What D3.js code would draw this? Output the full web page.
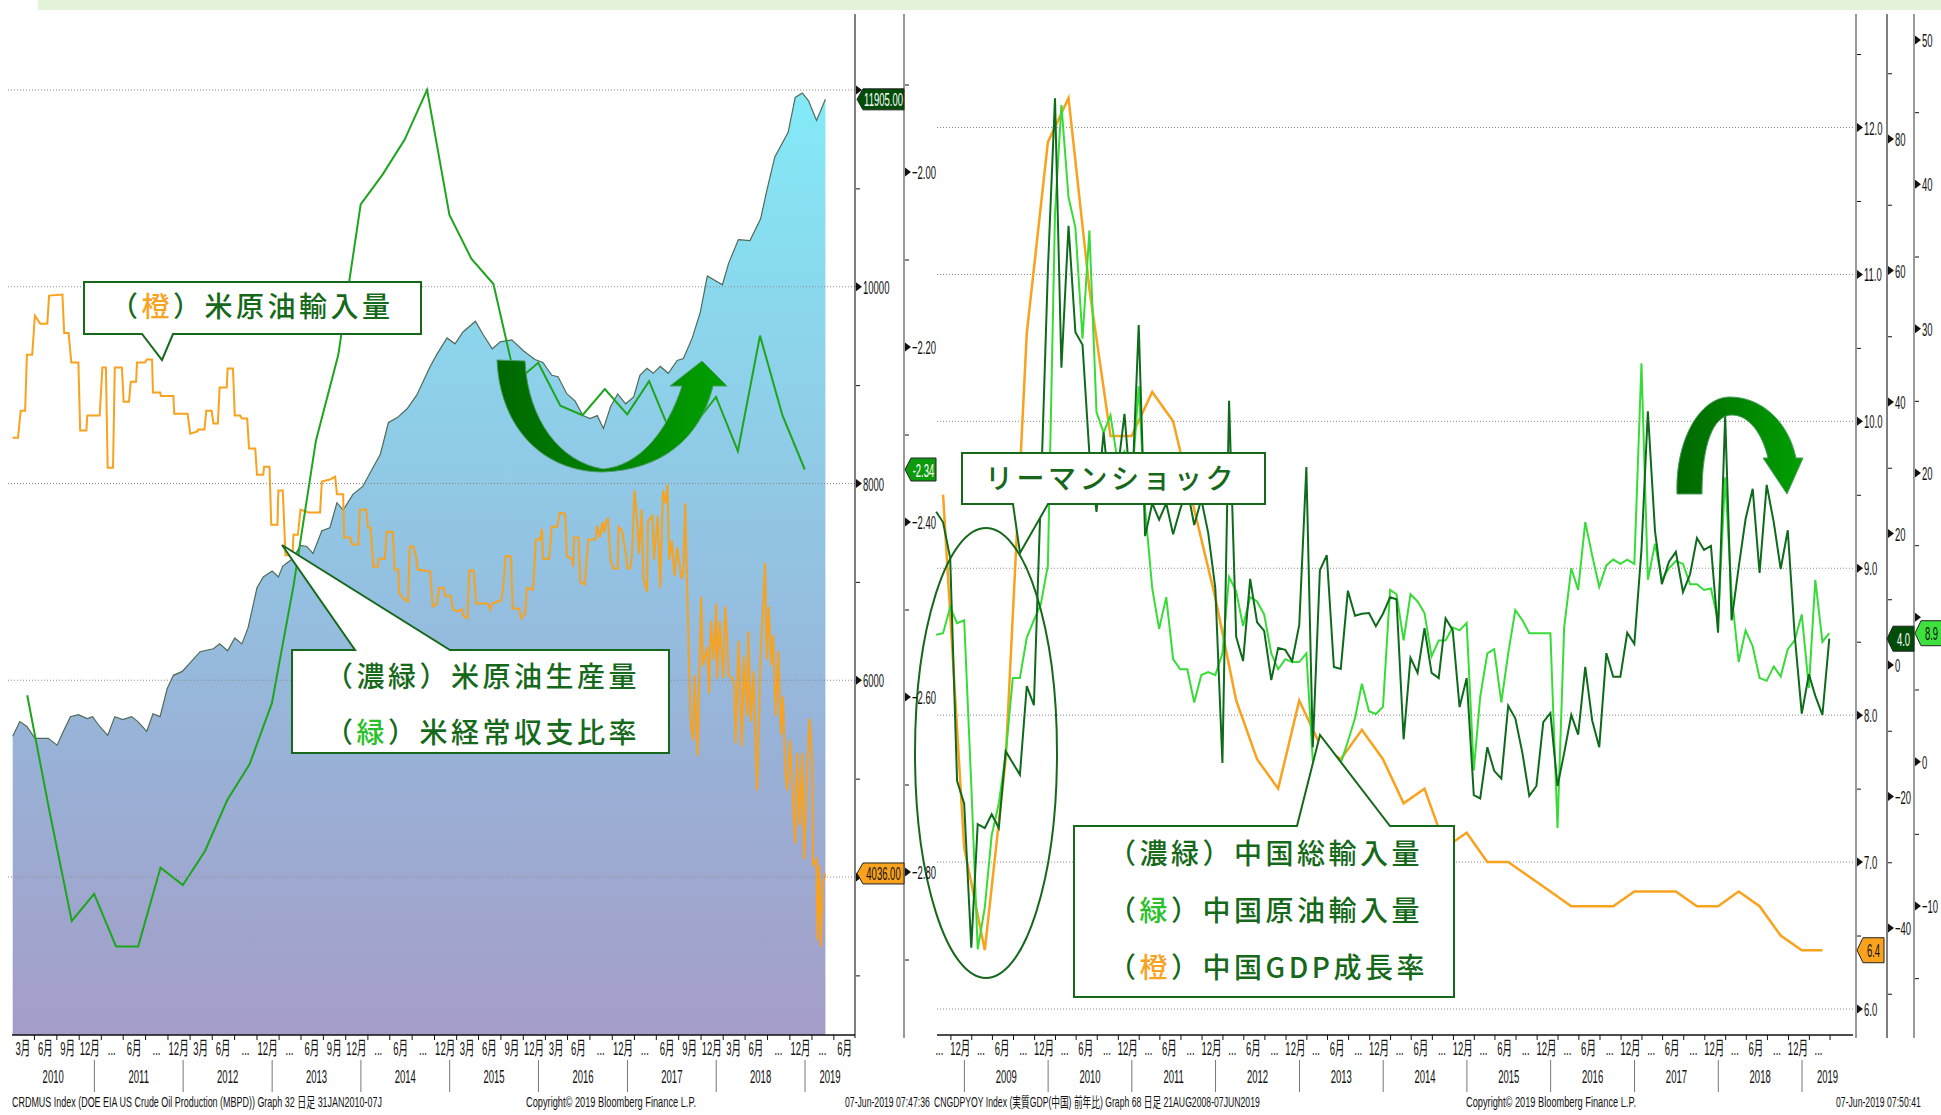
<!DOCTYPE html>
<html>
<head>
<meta charset="utf-8">
<script src="https://cdn.jsdelivr.net/npm/d3@7"></script>
<style>
body { margin: 0; background: #fff; }
svg { display: block; font-family: "Liberation Sans", "Noto Sans CJK JP", sans-serif; }
.jp { font-family: "Noto Sans CJK JP", sans-serif; }
</style>
</head>
<body>
<svg id="chart" width="1941" height="1115"></svg>
<script>
// US crude oil production (kb/d), [decimal year, value]
var usProduction = [
  [2010.08,5430],[2010.16,5580],[2010.24,5530],[2010.33,5410],[2010.48,5410],[2010.58,5340],[2010.65,5480],
  [2010.73,5630],[2010.82,5650],[2010.92,5610],[2010.98,5630],[2011.06,5530],[2011.15,5440],[2011.23,5630],
  [2011.32,5600],[2011.42,5630],[2011.49,5580],[2011.59,5480],[2011.66,5660],[2011.74,5630],[2011.82,5915],
  [2011.89,6050],[2011.99,6090],[2012.08,6180],[2012.19,6290],[2012.34,6320],[2012.41,6370],[2012.50,6300],
  [2012.58,6430],[2012.66,6370],[2012.73,6535],[2012.83,6940],[2012.90,7050],[2013.00,7110],[2013.07,7050],
  [2013.12,7160],[2013.23,7235],[2013.32,7370],[2013.39,7360],[2013.46,7290],[2013.56,7520],[2013.65,7550],
  [2013.73,7805],[2013.80,7730],[2013.91,7890],[2014.02,7970],[2014.22,8300],[2014.31,8620],[2014.41,8670],
  [2014.52,8760],[2014.63,8900],[2014.78,9190],[2014.86,9320],[2014.97,9480],[2015.06,9420],[2015.15,9540],
  [2015.29,9650],[2015.38,9510],[2015.48,9370],[2015.57,9440],[2015.70,9460],[2015.83,9350],[2015.96,9260],
  [2016.05,9230],[2016.15,9100],[2016.22,9085],[2016.32,8910],[2016.41,8840],[2016.50,8690],[2016.58,8660],
  [2016.66,8690],[2016.73,8560],[2016.81,8780],[2016.89,8910],[2016.98,8810],[2017.07,8880],[2017.14,9100],
  [2017.22,9170],[2017.29,9120],[2017.37,9190],[2017.46,9120],[2017.56,9250],[2017.63,9270],[2017.73,9480],
  [2017.82,9740],[2017.90,10110],[2018.07,10020],[2018.14,10240],[2018.25,10480],[2018.38,10470],[2018.50,10690],
  [2018.57,10980],[2018.66,11320],[2018.81,11570],[2018.89,11925],[2018.97,11970],[2019.04,11890],[2019.13,11690],
  [2019.23,11905]
];

// US crude oil imports (kb/d), [decimal year, value]
var usImports = [
  [2010.08,8466],[2010.14,8466],[2010.17,8740],[2010.22,8740],[2010.24,9310],[2010.30,9310],[2010.33,9705],
  [2010.39,9625],[2010.47,9625],[2010.49,9910],[2010.64,9920],[2010.66,9530],[2010.71,9530],[2010.74,9230],
  [2010.82,9230],[2010.84,8540],[2010.91,8540],[2010.92,8690],[2011.06,8690],[2011.09,9180],[2011.13,9180],
  [2011.15,8160],[2011.21,8160],[2011.23,9180],[2011.31,9180],[2011.33,8830],[2011.39,8830],[2011.41,9035],
  [2011.47,9035],[2011.48,9230],[2011.57,9230],[2011.59,9260],[2011.65,9260],[2011.66,8925],[2011.74,8925],
  [2011.75,8890],[2011.89,8890],[2011.90,8710],[2012.05,8710],[2012.08,8506],[2012.16,8530],[2012.17,8550],
  [2012.24,8550],[2012.26,8740],[2012.32,8740],[2012.34,8610],[2012.39,8610],[2012.41,8975],[2012.49,8975],
  [2012.50,9170],[2012.56,9170],[2012.58,8690],[2012.64,8690],[2012.66,8660],[2012.72,8660],[2012.74,8355],
  [2012.81,8355],[2012.83,8090],[2012.90,8090],[2012.91,8170],[2012.97,8170],[2012.99,7580],[2013.06,7580],
  [2013.07,7930],[2013.12,7930],[2013.15,7270],[2013.23,7270],[2013.24,7480],[2013.29,7480],[2013.32,7735],
  [2013.41,7705],[2013.54,7705],[2013.56,8020],[2013.65,8040],[2013.71,8070],[2013.73,7890],[2013.80,7890],
  [2013.81,7450],[2013.88,7450],[2013.90,7380],[2013.97,7380],[2013.99,7735],[2014.06,7735],[2014.08,7550],
  [2014.11,7550],[2014.14,7155],[2014.19,7155],[2014.20,7235],[2014.27,7235],[2014.29,7510],[2014.36,7510],
  [2014.38,7125],[2014.42,7125],[2014.43,6890],[2014.48,6830],[2014.53,6800],[2014.55,7360],[2014.59,7360],
  [2014.62,7270],[2014.64,7125],[2014.78,7105],[2014.81,6750],[2014.86,6780],[2014.88,6940],[2014.93,6940],
  [2014.95,6860],[2015.01,6860],[2015.04,6720],[2015.08,6700],[2015.14,6720],[2015.15,6660],[2015.20,6630],
  [2015.22,7115],[2015.27,7115],[2015.30,6780],[2015.43,6780],[2015.46,6720],[2015.48,6780],[2015.58,6810],
  [2015.60,6920],[2015.63,7260],[2015.69,7260],[2015.71,6730],[2015.78,6730],[2015.81,6630],[2015.85,6680],
  [2015.87,6940],[2015.94,6920],[2015.97,7430],[2016.02,7430],[2016.04,7540],[2016.05,7235],[2016.12,7235],
  [2016.15,7560],[2016.21,7560],[2016.24,7705],[2016.30,7690],[2016.32,7260],[2016.38,7230],[2016.39,7155],
  [2016.40,7450],[2016.45,7450],[2016.47,7000],[2016.52,6970],[2016.56,7430],[2016.64,7430],[2016.66,7570],
  [2016.69,7450],[2016.72,7610],[2016.74,7500],[2016.76,7620],[2016.78,7640],[2016.81,7225],[2016.84,7135],
  [2016.89,7135],[2016.90,7560],[2016.94,7520],[2016.98,7290],[2017.00,7135],[2017.03,7135],[2017.05,7260],
  [2017.08,7930],[2017.11,7610],[2017.13,7290],[2017.16,7735],[2017.18,7030],[2017.22,6900],[2017.23,7610],
  [2017.28,7670],[2017.30,7225],[2017.34,7670],[2017.37,6940],[2017.40,7930],[2017.43,7800],[2017.45,7990],
  [2017.47,7225],[2017.50,7420],[2017.53,7060],[2017.56,7350],[2017.61,7030],[2017.63,7100],[2017.65,7800],
  [2017.67,7030],[2017.71,5580],[2017.74,5390],[2017.76,6050],[2017.79,5230],[2017.83,6850],[2017.85,6150],
  [2017.90,6340],[2017.92,5865],[2017.94,6600],[2017.97,6210],[2018.00,6780],[2018.01,6020],[2018.04,6600],
  [2018.08,6020],[2018.10,6750],[2018.12,6470],[2018.14,6050],[2018.18,6020],[2018.20,5960],[2018.22,5360],
  [2018.25,6400],[2018.29,5330],[2018.31,6240],[2018.35,5640],[2018.36,6495],[2018.39,5580],[2018.42,6090],
  [2018.46,4880],[2018.50,6270],[2018.53,6780],[2018.55,7195],[2018.57,6210],[2018.59,6750],[2018.62,6150],
  [2018.64,6460],[2018.67,5640],[2018.70,6300],[2018.73,5450],[2018.75,5835],[2018.78,5070],[2018.80,4880],
  [2018.83,5390],[2018.87,4690],[2018.89,4340],[2018.91,5260],[2018.94,4525],[2018.97,5260],[2018.99,4180],
  [2019.03,5195],[2019.05,5610],[2019.08,5195],[2019.09,4120],[2019.13,4180],[2019.14,3355],[2019.16,4120],
  [2019.18,3290],[2019.20,3925],[2019.23,4036]
];

// US current account ratio, quarterly from 2010 Q1
var usCurrentAccount = [-2.598, -2.73, -2.856, -2.825, -2.885, -2.885, -2.795, -2.815, -2.776, -2.718,
  -2.677, -2.607, -2.471, -2.307, -2.209, -2.037, -2.003, -1.963, -1.906, -2.049, -2.099, -2.128, -2.24,
  -2.218, -2.267, -2.278, -2.248, -2.277, -2.239, -2.30, -2.29, -2.257, -2.319, -2.187, -2.278, -2.34];

// China real GDP yoy, quarterly from 2008 Q3
var cnGdp = [9.5, 7.1, 6.4, 7.7, 10.6, 11.9, 12.2, 10.9, 9.9, 9.9, 10.2, 10.0, 9.4, 8.8, 8.1, 7.7, 7.5, 8.1,
  7.8, 7.7, 7.9, 7.7, 7.4, 7.5, 7.1, 7.2, 7.0, 7.0, 6.9, 6.8, 6.7, 6.7, 6.7, 6.8, 6.8, 6.8, 6.7, 6.7, 6.8,
  6.7, 6.5, 6.4, 6.4];

// China total imports yoy, monthly from Aug 2008
var cnTotalImports = [23.3, 21.7, 16.3, -17.6, -21.1, -43.0, -24.2, -24.8, -22.7, -24.8, -13.1, -14.9,
  -16.7, -3.2, -6.1, 25.7, 60.1, 86.2, 45.2, 66.8, 50.6, 48.7, 32.1, 23.3, 35.4, 24.6, 29.4, 38.2, 24.6,
  51.7, 19.6, 24.6, 22.1, 24.6, 19.9, 23.7, 26.8, 21.3, 25.2, 20.1, 11.7, -14.9, 40.2, 4.3, 0.6, 13.1, 6.5,
  5.2, -2.3, 2.6, 2.3, 0.6, 6.1, 30.1, -12.5, 14.4, 16.7, -0.3, -0.6, 11.3, 7.5, 7.8, 7.9, 5.9, 7.8, 10.3,
  10.0, -11.3, 1.1, -1.2, 5.6, -1.2, -2.0, 7.1, 5.3, -6.4, -2.0, -19.8, -20.3, -12.5, -16.1, -17.3, -6.2,
  -8.1, -13.4, -19.9, -18.4, -8.7, -7.3, -18.4, -13.4, -7.6, -10.6, -0.3, -8.4, -12.5, 1.8, -1.8, -1.8,
  4.9, 3.2, 17.5, 38.6, 20.4, 12.3, 15.7, 17.2, 11.1, 13.8, 19.3, 17.5, 18.1, 4.9, 37.9, 6.8, 14.9, 22.2,
  26.8, 14.0, 27.4, 21.7, 14.6, 20.5, 4.6, -7.4, -1.4, -4.7, -7.6, 4.0];

// China crude oil imports yoy, monthly from Aug 2008
var cnCrudeImports = [8.8, 8.9, 10.7, 9.6, 9.8, -1.6, -13.0, -10.1, -5.1, -2.9, 0.5, 5.8, 5.8, 8.6, 9.8,
  10.9, 13.6, 38.0, 45.5, 39.1, 37.0, 29.3, 36.8, 24.2, 22.8, 24.0, 20.8, 21.5, 19.0, 26.0, 17.5, 12.0,
  9.2, 11.4, 7.1, 6.4, 6.4, 4.1, 6.0, 6.2, 6.0, 7.5, 12.8, 11.8, 9.4, 11.4, 11.1, 10.2, 7.5, 6.4, 7.1, 6.9,
  6.9, 7.5, 0.1, -1.0, -1.5, -1.0, -0.1, 1.4, 3.0, 5.4, 3.5, 3.3, 3.8, 11.9, 11.6, 8.4, 11.6, 11.1, 10.3,
  7.3, 8.4, 8.4, 9.3, 9.1, 9.6, -0.6, 4.5, 7.5, 7.8, 4.1, 7.5, 10.5, 9.8, 8.9, 8.9, 8.9, 8.9, -4.6, 9.3,
  13.4, 11.9, 16.6, 14.3, 12.1, 13.6, 14.0, 13.7, 14.0, 13.7, 27.6, 12.6, 15.1, 12.6, 13.4, 13.9, 13.7,
  12.3, 12.3, 11.9, 12.0, 9.8, 19.7, 11.6, 6.9, 9.1, 8.0, 5.8, 5.6, 6.6, 5.9, 7.8, 8.4, 10.2, 5.1, 12.6,
  8.3, 8.9];

var leftMonthLabels = ["3月","6月","9月","12月","...","6月","...","12月","3月","6月","...","12月",
  "...","6月","9月","12月","...","6月","...","12月","3月","6月","9月","12月","3月","6月","...","12月",
  "...","6月","9月","12月","3月","6月","...","12月","...","6月"];
var rightMonthLabels = ["...","12月",
  "...","6月","...","12月", "...","6月","...","12月", "...","6月","...","12月", "...","6月","...","12月",
  "...","6月","...","12月", "...","6月","...","12月", "...","6月","...","12月", "...","6月","...","12月",
  "...","6月","...","12月", "...","6月","...","12月", "..."];
var leftYears = [2010, 2011, 2012, 2013, 2014, 2015, 2016, 2017, 2018, 2019];
var rightYears = [2009, 2010, 2011, 2012, 2013, 2014, 2015, 2016, 2017, 2018, 2019];

var svg = d3.select("#chart");
var green = "#16691a";
var orange = "#f8a21e";

function decDate(d) {
  var y = Math.floor(d);
  var t0 = new Date(y, 0, 1), t1 = new Date(y + 1, 0, 1);
  return new Date(+t0 + (d - y) * (t1 - t0));
}

// condensed Bloomberg-like text
function narrow(g, x, y, str, size, sx, anchor, fill) {
  return g.append("text")
    .attr("transform", "translate(" + x + "," + y + ") scale(" + sx + ",1)")
    .attr("font-size", size)
    .attr("text-anchor", anchor || "start")
    .attr("fill", fill || "#111")
    .text(str);
}

// scales
var xL = d3.scaleTime().domain([new Date(2010, 0, 1), new Date(2019, 0, 1)]).range([5.6, 805]);
var yProd = d3.scaleLinear().domain([4000, 12000]).range([877, 90]);
var yCA = d3.scaleLinear().domain([-2.8, -2.0]).range([872, 172]);
var xR = d3.scaleTime().domain([new Date(2009, 0, 1), new Date(2019, 0, 1)]).range([964.4, 1802]);
var yGdp = d3.scaleLinear().domain([6, 12]).range([1009, 127.5]);
var yImp = d3.scaleLinear().domain([-40, 80]).range([928, 139]);
var yCrude = d3.scaleLinear().domain([-10, 50]).range([906, 40]);

var defs = svg.append("defs");
var ag = defs.append("linearGradient").attr("id", "areaGrad")
  .attr("gradientUnits", "userSpaceOnUse").attr("x1", 0).attr("x2", 0).attr("y1", 90).attr("y2", 1035);
[[0, "#82eaf8"], [0.29, "#8dd2ea"], [0.54, "#94bfe0"], [0.68, "#98b3d8"], [1, "#a49dc7"]].forEach(function (s) {
  ag.append("stop").attr("offset", s[0]).attr("stop-color", s[1]);
});
function arrowGrad(id, x1, x2) {
  var g = defs.append("linearGradient").attr("id", id)
    .attr("gradientUnits", "userSpaceOnUse").attr("x1", x1).attr("x2", x2).attr("y1", 0).attr("y2", 0);
  g.append("stop").attr("offset", 0).attr("stop-color", "#006800");
  g.append("stop").attr("offset", 1).attr("stop-color", "#00a000");
}
arrowGrad("arrowL", 497, 727);
arrowGrad("arrowR", 1677, 1803);
defs.append("clipPath").attr("id", "clipL").append("rect").attr("x", 12).attr("y", 12).attr("width", 843).attr("height", 1023);

// top band
svg.append("rect").attr("x", 38).attr("y", 0).attr("width", 1903).attr("height", 10).attr("fill", "#e4f4da");

// ---------------- left chart ----------------
var left = svg.append("g").attr("clip-path", "url(#clipL)");

left.append("path").datum(usProduction)
  .attr("d", d3.area().x(function (d) { return xL(decDate(d[0])); }).y0(1035).y1(function (d) { return yProd(d[1]); }))
  .attr("fill", "url(#areaGrad)");
left.append("path").datum(usProduction)
  .attr("d", d3.line().x(function (d) { return xL(decDate(d[0])); }).y(function (d) { return yProd(d[1]); }))
  .attr("fill", "none").attr("stroke", "#4f6b58").attr("stroke-width", 1.2);

[4000, 6000, 8000, 10000, 12000].forEach(function (v) {
  svg.append("line").attr("x1", 8).attr("x2", 855).attr("y1", yProd(v)).attr("y2", yProd(v))
    .attr("stroke", "#8a8a8a").attr("stroke-dasharray", "1,2");
});

left.append("path").datum(usImports)
  .attr("d", d3.line().x(function (d) { return xL(decDate(d[0])); }).y(function (d) { return yProd(d[1]); }))
  .attr("fill", "none").attr("stroke", orange).attr("stroke-width", 2);

left.append("path").datum(usCurrentAccount)
  .attr("d", d3.line().x(function (d, i) { return xL(new Date(2010, 3 + 3 * i, 0)); }).y(function (d) { return yCA(d); }))
  .attr("fill", "none").attr("stroke", "#1ea51e").attr("stroke-width", 2);

// ---------------- right chart ----------------
[6, 7, 8, 9, 10, 11, 12].forEach(function (v) {
  svg.append("line").attr("x1", 937).attr("x2", 1853).attr("y1", yGdp(v)).attr("y2", yGdp(v))
    .attr("stroke", "#8a8a8a").attr("stroke-dasharray", "1,2");
});

svg.append("path").datum(cnGdp)
  .attr("d", d3.line().x(function (d, i) { return xR(new Date(2008, 9 + 3 * i, 0)); }).y(function (d) { return yGdp(d); }))
  .attr("fill", "none").attr("stroke", orange).attr("stroke-width", 2.5);
svg.append("path").datum(cnCrudeImports)
  .attr("d", d3.line().x(function (d, i) { return xR(new Date(2008, 8 + i, 0)); }).y(function (d) { return yCrude(d); }))
  .attr("fill", "none").attr("stroke", "#38dc38").attr("stroke-width", 2);
svg.append("path").datum(cnTotalImports)
  .attr("d", d3.line().x(function (d, i) { return xR(new Date(2008, 8 + i, 0)); }).y(function (d) { return yImp(d); }))
  .attr("fill", "none").attr("stroke", "#0e6b1c").attr("stroke-width", 2);

// ---------------- annotations ----------------
function callout(d) {
  svg.append("path").attr("d", d).attr("fill", "#fff").attr("stroke", green).attr("stroke-width", 2);
}
function jpLine(x, y, parts) {
  var t = svg.append("text").attr("class", "jp").attr("x", x).attr("y", y)
    .attr("font-size", 28).attr("font-weight", 500).attr("letter-spacing", "3.5px").attr("fill", green);
  parts.forEach(function (p) { t.append("tspan").attr("fill", p[1] || green).text(p[0]); });
}

callout("M84,282 H421 V334 H173 L162,360 L142,334 H84 Z");
jpLine(110, 317, [["（"], ["橙", orange], ["）米原油輸入量"]]);

callout("M292,650 H355 L282,545 L450,650 H669 V753 H292 Z");
jpLine(325, 687, [["（濃緑）米原油生産量"]]);
jpLine(325, 743, [["（"], ["緑", "#2cbf2c"], ["）米経常収支比率"]]);

callout("M962,453 H1265 V504 H1048 L1020,553 L1013,504 H962 Z");
jpLine(985, 489, [["リーマンショック"]]);

svg.append("ellipse").attr("cx", 986).attr("cy", 753).attr("rx", 71).attr("ry", 225)
  .attr("fill", "none").attr("stroke", green).attr("stroke-width", 2);

callout("M1074,826 H1297 L1320,735 L1390,826 H1454 V997 H1074 Z");
jpLine(1108, 864, [["（濃緑）中国総輸入量"]]);
jpLine(1108, 921, [["（"], ["緑", "#2cbf2c"], ["）中国原油輸入量"]]);
jpLine(1108, 978, [["（"], ["橙", orange], ["）中国GDP成長率"]]);

svg.append("path")
  .attr("d", "M497,360 L525,361 C528,420 560,462 603,469 C640,466 668,430 682,386 L670,386 L702,361 L727,386 L713,386 C700,440 660,470 603,472 C545,472 500,430 497,360 Z")
  .attr("fill", "url(#arrowL)").attr("stroke", "#4c9a62").attr("stroke-width", 1);
svg.append("path")
  .attr("d", "M1677,494 C1675,440 1700,397 1730,397 C1760,397 1788,420 1796,458 L1803,458 L1787,494 L1763,458 L1768,458 C1762,432 1748,415 1732,415 C1713,415 1702,445 1702,494 Z")
  .attr("fill", "url(#arrowR)").attr("stroke", "#4c9a62").attr("stroke-width", 1);

// ---------------- y axes ----------------
// labels sitting under a value badge are left out (hidden in the original)
var yAxes = [
  { x: 855, scale: yProd, major: [4000, 6000, 8000, 10000, 12000], hide: [4000, 12000], minor: [3000, 5000, 7000, 9000, 11000], fmt: d3.format("d"), color: "#000", w: 1 },
  { x: 904, scale: yCA, major: [-2.8, -2.6, -2.4, -2.2, -2.0], hide: [], minor: [-2.9, -2.7, -2.5, -2.3, -2.1, -1.9], fmt: d3.format(".2f"), color: "#9a9a9a", w: 2 },
  { x: 1856, scale: yGdp, major: [6, 7, 8, 9, 10, 11, 12], hide: [], minor: [6.5, 7.5, 8.5, 9.5, 10.5, 11.5, 12.5], fmt: d3.format(".1f"), color: "#9a9a9a", w: 2 },
  { x: 1887, scale: yImp, major: [-40, -20, 0, 20, 40, 60, 80], hide: [], minor: [-50, -30, -10, 10, 30, 50, 70, 90], fmt: d3.format("d"), color: "#000", w: 1 },
  { x: 1914, scale: yCrude, major: [-10, 0, 10, 20, 30, 40, 50], hide: [10], minor: [-15, -5, 5, 15, 25, 35, 45], fmt: d3.format("d"), color: "#9a9a9a", w: 2 }
];
yAxes.forEach(function (a) {
  svg.append("line").attr("x1", a.x).attr("x2", a.x).attr("y1", 14).attr("y2", 1038)
    .attr("stroke", a.color).attr("stroke-width", a.w);
  var g = svg.append("g").attr("transform", "translate(" + (a.x + 1) + ",0)")
    .call(d3.axisRight(a.scale).tickValues(a.minor).tickSize(4).tickFormat(""));
  g.select(".domain").remove();
  g.selectAll("line").attr("stroke", "#111");
  a.major.forEach(function (v) {
    var y = a.scale(v);
    svg.append("path").attr("d", "M" + (a.x + 1) + "," + (y - 4.5) + "L" + (a.x + 7) + "," + y + "L" + (a.x + 1) + "," + (y + 4.5) + "Z")
      .attr("fill", "#111");
    if (a.hide.indexOf(v) < 0) narrow(svg, a.x + 8, y + 7, a.fmt(v), 19, 0.5);
  });
});

function badge(x, yc, w, h, fill, color, label) {
  svg.append("path")
    .attr("d", "M" + x + "," + yc + "L" + (x + 6) + "," + (yc - h / 2) + "H" + (x + w) + "V" + (yc + h / 2) + "H" + (x + 6) + "Z")
    .attr("fill", fill).attr("stroke", "#222").attr("stroke-width", 1);
  narrow(svg, x + 3 + w / 2, yc + 7, label, 19, 0.5, "middle", color);
}
badge(857, yProd(11905), 47, 21, "#004d08", "#fff", "11905.00");
badge(857, yProd(4036), 47, 21, "#f8a21e", "#111", "4036.00");
badge(905, yCA(-2.34), 31, 23, "#0d9a0d", "#fff", "-2.34");
badge(1857, yGdp(6.4), 27, 25, "#f8a21e", "#111", "6.4");
badge(1887, yImp(4.0), 27, 25, "#004d08", "#fff", "4.0");
badge(1915, yCrude(8.9), 27, 25, "#3de03d", "#111", "8.9");

// ---------------- x axes ----------------
function xAxis(scale, x0, x1, labels, startYear, startMonth, years) {
  svg.append("line").attr("x1", x0).attr("x2", x1).attr("y1", 1035).attr("y2", 1035).attr("stroke", "#111").attr("stroke-width", 1.5);
  var pos = labels.map(function (l, i) { return scale(new Date(startYear, startMonth + 3 * i, 1)) + 3; });
  var ticks = pos.map(function (p) { return p + 11; });
  svg.append("g").attr("transform", "translate(0,1035)")
    .call(d3.axisBottom(d3.scaleIdentity()).tickValues(ticks.filter(function (t) { return t < x1; })).tickSize(5).tickFormat(""))
    .call(function (g) { g.select(".domain").remove(); g.selectAll("line").attr("stroke", "#111"); });
  labels.forEach(function (l, i) {
    narrow(svg, pos[i], 1055, l, 19, 0.5, "middle");
  });
  years.forEach(function (y) {
    var a = Math.max(x0, scale(new Date(y, 0, 1)));
    var b = Math.min(x1, scale(new Date(y + 1, 0, 1)));
    narrow(svg, (a + b) / 2, 1083, String(y), 19, 0.5, "middle");
    if (scale(new Date(y, 0, 1)) > x0) {
      svg.append("line").attr("x1", a).attr("x2", a).attr("y1", 1060).attr("y2", 1092).attr("stroke", "#777");
    }
  });
}
xAxis(xL, 12, 855, leftMonthLabels, 2010, 2, leftYears);
xAxis(xR, 937, 1853, rightMonthLabels, 2008, 8, rightYears);

// footers
narrow(svg, 12, 1107, "CRDMUS Index (DOE EIA US Crude Oil Production (MBPD)) Graph 32  日足 31JAN2010-07J", 14, 0.64);
narrow(svg, 526, 1107, "Copyright© 2019 Bloomberg Finance L.P.", 14, 0.66);
narrow(svg, 845, 1107, "07-Jun-2019 07:47:36", 14, 0.62);
narrow(svg, 934, 1107, "CNGDPYOY Index (実質GDP(中国) 前年比) Graph 68  日足 21AUG2008-07JUN2019", 14, 0.62);
narrow(svg, 1466, 1107, "Copyright© 2019 Bloomberg Finance L.P.", 14, 0.66);
narrow(svg, 1836, 1107, "07-Jun-2019 07:50:41", 14, 0.62);
</script>
</body>
</html>
